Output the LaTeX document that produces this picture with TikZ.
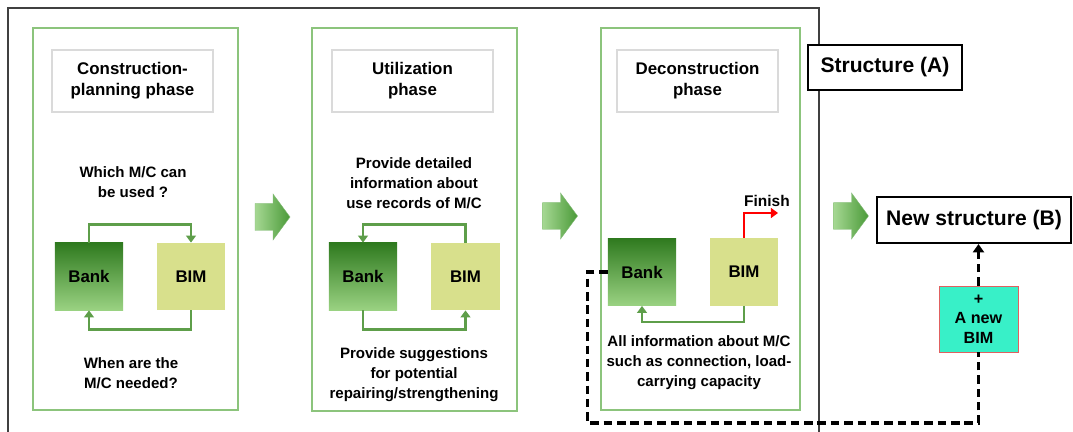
\documentclass[tikz,border=0pt]{standalone}
\usepackage{fontspec}
\setmainfont{Liberation Sans}
\usetikzlibrary{arrows.meta}

\definecolor{panelgreen}{HTML}{8CC47C}
\definecolor{loopgreen}{HTML}{5E9E4A}
\definecolor{banktop}{HTML}{2F7A1F}
\definecolor{bankbottom}{HTML}{9AD282}
\definecolor{bimfill}{HTML}{D8E08C}
\definecolor{titlegray}{HTML}{DADADA}
\definecolor{framegray}{HTML}{404040}
\definecolor{newbimfill}{HTML}{38F0C8}
\definecolor{newbimedge}{HTML}{E06060}
\definecolor{steplight}{HTML}{A6D893}
\definecolor{stepdark}{HTML}{4A9A38}

\begin{document}
\begin{tikzpicture}[x=0.025cm,y=-0.025cm,
  frame/.style={draw=framegray,line width=0.8pt},
  panel/.style={draw=panelgreen,line width=0.9pt},
  titlebox/.style={draw=titlegray,line width=1.4pt,fill=white,minimum width=4.025cm,
    minimum height=1.55cm,align=center,font=\fontsize{12}{15}\selectfont\bfseries},
  bankbox/.style={top color=banktop,bottom color=bankbottom,minimum width=1.7cm,
    minimum height=1.68cm,inner sep=0pt,font=\fontsize{12}{14}\selectfont\bfseries},
  bimbox/.style={fill=bimfill,minimum width=1.7cm,minimum height=1.68cm,inner sep=0pt,
    font=\fontsize{12}{14}\selectfont\bfseries},
  note/.style={align=center,inner sep=0pt,font=\fontsize{10.7}{14.2}\selectfont\bfseries},
  loop/.style={draw=loopgreen,line width=1.6pt,-{Triangle[width=7pt,length=5pt]}},
  stepper/.style={left color=steplight,right color=stepdark,draw=stepdark!70,line width=0.3pt},
  structbox/.style={draw=black,line width=1.5pt,fill=white,inner sep=0pt,
    font=\fontsize{15}{18}\selectfont\bfseries},
  dashline/.style={line width=2.3pt,dash pattern=on 6pt off 3.5pt}
]
\useasboundingbox (0,0) rectangle (1073,432);
\draw[frame] (8,432) -- (8,8) -- (819,8) -- (819,432);

% construction-planning phase
\draw[panel] (33,28) rectangle (238,410);
\draw (132.5,81) node[titlebox] (title1) {Construction-\\planning phase};
\draw (133,182) node[note] (ask1) {Which M/C can\\be used ?};
\draw (89,276.5) node[bankbox] (bank1) {Bank};
\draw (191,276.5) node[bimbox] (bim1) {BIM};
\draw (131,373) node[note] (when1) {When are the\\M/C needed?};
\draw[loop] (bank1.north) -- ++(0,-18) -| (bim1.north);
\draw[loop] (bim1.south) -- ++(0,19) -| (bank1.south);

% utilization phase
\draw[panel] (312,28) rectangle (517,411);
\draw (412.5,81) node[titlebox] (title2) {Utilization\\phase};
\draw (414,183) node[note] (ask2) {Provide detailed\\information about\\use records of M/C};
\draw (363,276.5) node[bankbox] (bank2) {Bank};
\draw (465.5,276.5) node[bimbox] (bim2) {BIM};
\draw (414,375) node[note] (when2) {Provide suggestions\\for potential\\repairing/strengthening};
\draw[loop] (bim2.north) -- ++(0,-18) -| (bank2.north);
\draw[loop] (bank2.south) -- ++(0,19) -| (bim2.south);

% deconstruction phase
\draw[panel] (601,28) rectangle (800,410);
\draw (697.5,81) node[titlebox] (title3) {Deconstruction\\phase};
\draw (642,272) node[bankbox] (bank3) {Bank};
\draw (744,272) node[bimbox] (bim3) {BIM};
\draw (699,363) node[note] (when3) {All information about M/C\\such as connection, load-\\carrying capacity};
\draw[loop] (bim3.south) -- ++(0,16) -| (bank3.south);
\coordinate (finishend) at (778,213);
\draw[red,line width=1.6pt,-{Triangle[width=7pt,length=5pt]}] (bim3.north) |- (finishend);
\draw (767,201) node[font=\fontsize{11}{13}\selectfont\bfseries] (finish) {Finish};

% phase arrows
\foreach \cx/\cy in {272/217,559.5/216,850.5/216}
  \shade[stepper] ({\cx-17},{\cy-13.5}) -- ({\cx+1},{\cy-13.5}) -- ({\cx+1},{\cy-23})
    -- ({\cx+18},\cy) -- ({\cx+1},{\cy+23}) -- ({\cx+1},{\cy+13.5}) -- ({\cx-17},{\cy+13.5}) -- cycle;

% structures
\draw (885,67.5) node[structbox,minimum width=3.85cm,minimum height=1.125cm] (structA) {Structure (A)};
\draw (974,220) node[structbox,minimum width=4.85cm,minimum height=1.15cm] (structB) {New structure (B)};
\draw (978.5,319) node[draw=newbimedge,line width=0.6pt,fill=newbimfill,minimum width=1.975cm,
  minimum height=1.65cm,align=center,inner sep=0pt,font=\fontsize{11.5}{14}\selectfont\bfseries] (newbim) {+\\A new\\BIM};

\draw[dashline] (bank3.west) -- ++(-20,0) -- ++(0,151) -| (newbim.south);
\draw[dashline,-{Triangle[width=8pt,length=6pt]}] (newbim.north) -- (newbim.north |- structB.south);
\end{tikzpicture}
\end{document}
